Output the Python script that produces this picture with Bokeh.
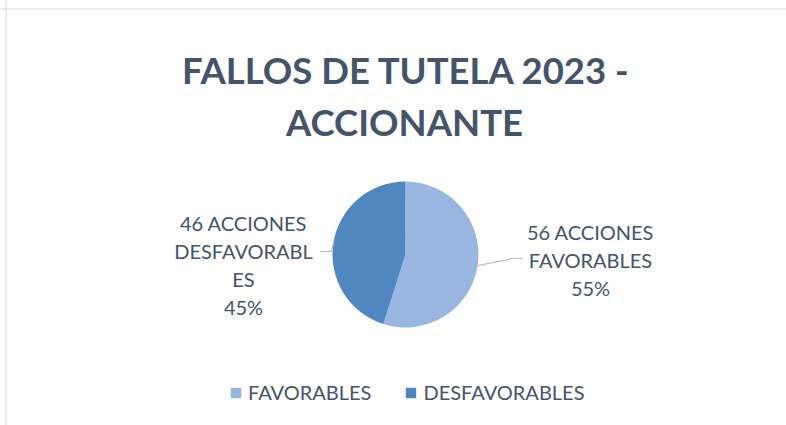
import math
from bokeh.plotting import figure
from bokeh.models import ColumnDataSource, Range1d, Legend, LegendItem, Span
from bokeh.core.properties import value
from bokeh.embed import file_html
from bokeh.resources import INLINE

# ---- data ----
title_lines = ["FALLOS DE TUTELA 2023 -", "ACCIONANTE"]
categories = ["FAVORABLES", "DESFAVORABLES"]
counts = [56, 46]
colors = ["#98B6DF", "#5087C1"]
label_lines = [
    ["56 ACCIONES", "FAVORABLES", "55%"],
    ["46 ACCIONES", "DESFAVORABL", "ES", "45%"],
]

W, H = 786, 425
TEXT = "#44546A"
FONT = "Lato"

p = figure(width=W, height=H, output_backend="svg", toolbar_location=None,
           x_range=Range1d(0, W), y_range=Range1d(0, H), min_border=0)
p.axis.visible = False
p.grid.visible = False
p.outline_line_color = None
p.background_fill_color = "white"
p.border_fill_color = "white"

def sy(y):  # screen y -> data y
    return H - y
def sx(x):
    return x

# chart border (top and left visible)
p.add_layout(Span(location=sy(8.5), dimension="width", line_color="#D9D9D9", line_width=1))
p.add_layout(Span(location=sx(5.5), dimension="height", line_color="#D9D9D9", line_width=1))

# title
p.text(x=[sx(406), sx(404)], y=[sy(69), sy(121)], text=title_lines,
       text_font=value(FONT), text_font_style="bold", text_font_size="36.5px",
       text_color=TEXT, text_align="center", text_baseline="alphabetic")

# pie
total = sum(counts)
cx, cy, R = sx(405), sy(254), 73
cum = 0.0
starts, ends, mids = [], [], []
for c in counts:
    f0 = cum / total
    cum += c
    f1 = cum / total
    starts.append(math.pi / 2 - f1 * 2 * math.pi)
    ends.append(math.pi / 2 - f0 * 2 * math.pi)
    mids.append(math.pi / 2 - (f0 + f1) / 2 * 2 * math.pi)

src = ColumnDataSource(dict(cat=categories, start=starts, end=ends, color=colors,
                            x=[cx] * 2, y=[cy] * 2))
r = p.wedge(x="x", y="y", radius=R, start_angle="start", end_angle="end",
            fill_color="color", line_color=None, source=src)

# leader lines
LEAD = "#BFBFBF"
ax = cx + R * math.cos(mids[0]); ay = cy + R * math.sin(mids[0])
p.line(x=[ax, sx(512), sx(522)], y=[ay, sy(258), sy(258)], line_color=LEAD, line_width=1.2)
bx = cx + R * math.cos(mids[1]); by = cy + R * math.sin(mids[1])
p.line(x=[bx, sx(331), sx(320)], y=[by, sy(251), sy(251)], line_color=LEAD, line_width=1.2)

# data labels
p.text(x=[sx(590)] * 3, y=[sy(231), sy(259), sy(287)], text=label_lines[0],
       text_font=value(FONT), text_font_size="20px", text_color=TEXT,
       text_align="center", text_baseline="alphabetic")
p.text(x=[sx(243)] * 4, y=[sy(222), sy(250), sy(278), sy(306)], text=label_lines[1],
       text_font=value(FONT), text_font_size="20px", text_color=TEXT,
       text_align="center", text_baseline="alphabetic")

legend = Legend(items=[LegendItem(label=c, renderers=[r], index=i) for i, c in enumerate(categories)],
                orientation="horizontal", location=(sx(229), sy(404)),
                glyph_width=13, glyph_height=13, label_standoff=6, spacing=33,
                padding=0, margin=0, border_line_color=None, background_fill_alpha=0,
                label_text_font=FONT, label_text_font_size="20px", label_text_color=TEXT,
                label_height=20)
p.add_layout(legend, "center")

open("out.html", "w").write(file_html(p, INLINE))
